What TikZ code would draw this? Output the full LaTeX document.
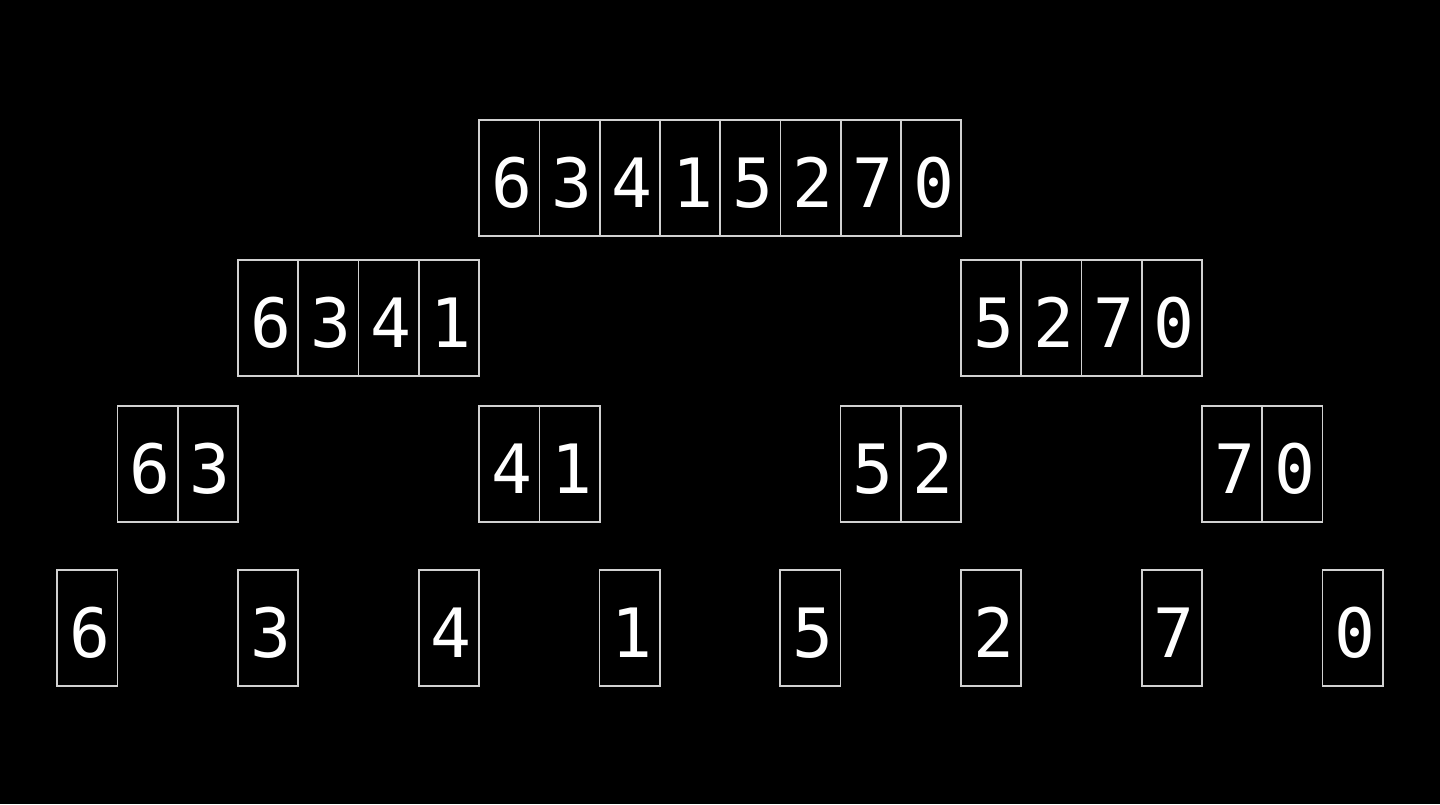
\documentclass[tikz,border=0pt]{standalone}
\usepackage{fontspec}
\setmonofont{DejaVu Sans Mono}
\usetikzlibrary{positioning}
\begin{document}
\begin{tikzpicture}[x=0.5pt,y=-0.5pt,
	cell/.style={draw=white!82!black, line width=0.8pt, outer sep=0pt, inner sep=0pt,
		minimum width=30.125pt, minimum height=58pt, text=white,
		text height=29pt, text depth=0pt, execute at begin node=\hspace*{2.5pt},
		font=\ttfamily\fontsize{34}{34}\selectfont}]
		\fill[black] (0,0) rectangle (1440,804);
		\useasboundingbox (0,0) rectangle (1440,804);

		% whole array
		\node[cell] (a0) at (509.375,178) {6};
		\foreach \d [count=\i, remember=\i as \j (initially 0)] in {3,4,1,5,2,7,0}
			\node[cell, right=0pt of a\j] (a\i) {\d};

		% halves
		\foreach \x/\n/\p/\q/\r/\s in {268.125/bl/6/3/4/1, 991.125/br/5/2/7/0} {
			\node[cell] (\n0) at (\x,318) {\p};
			\node[cell, right=0pt of \n0] (\n1) {\q};
			\node[cell, right=0pt of \n1] (\n2) {\r};
			\node[cell, right=0pt of \n2] (\n3) {\s};
		}

		% quarters
		\foreach \x/\n/\p/\q in {147.625/qa/6/3, 509.375/qb/4/1, 870.625/qc/5/2, 1232.125/qd/7/0} {
			\node[cell] (\n0) at (\x,464) {\p};
			\node[cell, right=0pt of \n0] (\n1) {\q};
		}

		% single elements
		\foreach \d [count=\i from 0] in {6,3,4,1,5,2,7,0}
			\node[cell] (e\i) at (87.375+180.75*\i,628) {\d};
	\end{tikzpicture}
\end{document}
